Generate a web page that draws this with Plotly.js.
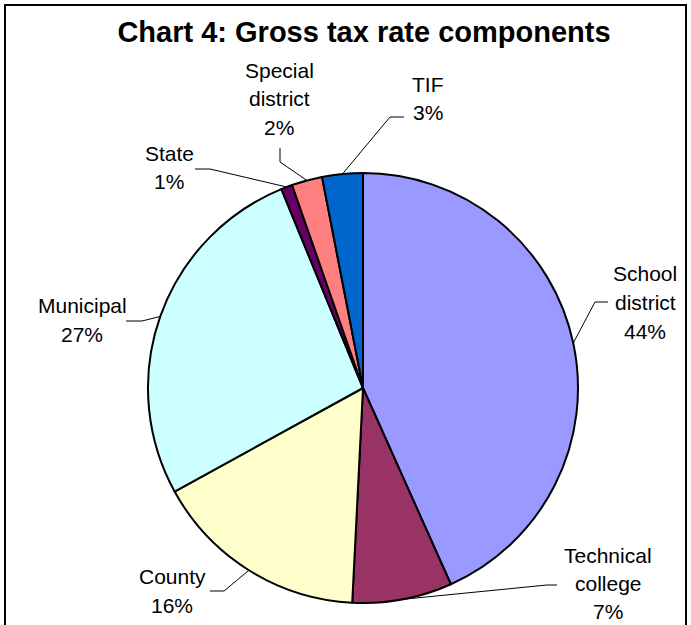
<!DOCTYPE html>
<html>
<head>
<meta charset="utf-8">
<script src="https://cdn.plot.ly/plotly-3.0.1.min.js"></script>
<style>html,body{margin:0;padding:0;background:#fff;}#chart{width:691px;height:625px;}</style>
</head>
<body>
<div id="chart"></div>
<script>
// ---- data ----
const categories = ['School district','Technical college','County','Municipal','State','Special district','TIF'];
const values = [43.3, 7.5, 16.2, 26.8, 0.85, 2.3, 3.05];
const percentLabels = ['44%','7%','16%','27%','1%','2%','3%'];
const labelLines = [['School','district'],['Technical','college'],['County'],['Municipal'],['State'],['Special','district'],['TIF']];
const colors = ['#9999FF','#993366','#FFFFCC','#CCFFFF','#660066','#FF8080','#0066CC'];
const titleText = 'Chart 4: Gross tax rate components';

// ---- layout (pixel geometry) ----
const W = 691, H = 625;
const cx = 363, cy = 388, R = 215;
// label anchor: [centerX, firstLineY, lineSpacing]
const labelPos = [[645,273,29],[608,555,28],[172,576,29],[82,305,29],[169,153,28],[279,70,28.5],[428,84,28]];
// leader lines: elbow and end points
const leaderElbow = [[595,302],[547,585],[224,591],[142,321],[210,169],[280,162],[390,117]];
const leaderEnd = [[608,302],[557,585],[210,591],[126,321],[195,169],[280,148],[404,117]];

const total = values.reduce((a,b)=>a+b,0);
const FONT = 'Arial, "Liberation Sans", sans-serif';

const annotations = [];
const shapes = [];
let cum = 0;
values.forEach((v,i)=>{
  const mid = (cum + v/2)/total*2*Math.PI;
  cum += v;
  const ex = cx + R*Math.sin(mid), ey = cy - R*Math.cos(mid);
  const el = leaderElbow[i], en = leaderEnd[i];
  shapes.push({type:'path', xref:'x', yref:'y',
    path:`M ${ex},${ey} L ${el[0]},${el[1]} L ${en[0]},${en[1]}`,
    line:{color:'#000', width:1}});
  const lines = labelLines[i].concat([percentLabels[i]]);
  const p = labelPos[i];
  lines.forEach((t,k)=>{
    annotations.push({xref:'x', yref:'y', x:p[0], y:p[1]+k*p[2], text:t, showarrow:false,
      xanchor:'center', yanchor:'middle', font:{family:FONT, size:21, color:'#000'}});
  });
});

shapes.push({type:'rect', xref:'x', yref:'y', x0:5, y0:5, x1:686, y1:640, line:{color:'#000', width:2}, fillcolor:'rgba(0,0,0,0)'});

const trace = {
  type:'pie', labels:categories, values:values, sort:false, direction:'clockwise', rotation:0,
  marker:{colors:colors, line:{color:'#000', width:2}},
  textinfo:'none', hoverinfo:'label+percent', showlegend:false,
  domain:{x:[(cx-R)/W,(cx+R)/W], y:[(H-cy-R)/H,(H-cy+R)/H]}
};
// invisible helper scatter so the cartesian axes exist
const helper = {type:'scatter', x:[0,W], y:[0,H], mode:'markers', marker:{opacity:0}, hoverinfo:'skip', showlegend:false};

const layout = {
  width:W, height:H, margin:{l:0,r:0,t:0,b:0},
  paper_bgcolor:'#fff', plot_bgcolor:'rgba(0,0,0,0)',
  title:{text:'<b>'+titleText+'</b>', font:{family:FONT, size:29, color:'#000'},
    xref:'paper', x:364/W, xanchor:'center', yref:'container', y:1-32/H, yanchor:'middle'},
  xaxis:{range:[0,W], visible:false, fixedrange:true, domain:[0,1]},
  yaxis:{range:[H,0], visible:false, fixedrange:true, domain:[0,1]},
  shapes:shapes, annotations:annotations, showlegend:false
};
Plotly.newPlot('chart',[helper, trace],layout,{displayModeBar:false, staticPlot:true});
</script>
</body>
</html>
